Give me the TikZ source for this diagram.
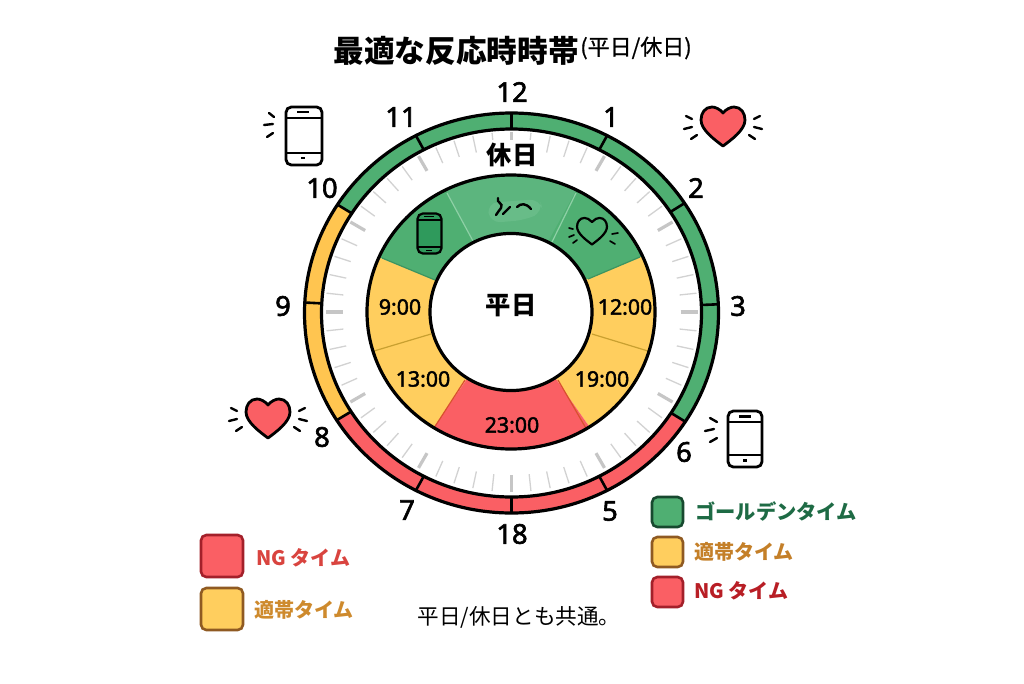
\documentclass[tikz,border=0pt]{standalone}
\usepackage{fontspec}
\setmainfont{Noto Sans CJK JP}
\newfontfamily\numf[FakeBold=2.2]{Noto Sans}
\newfontfamily\timef[FakeBold=2]{Noto Sans}
\newfontfamily\subf[FakeBold=0.8]{Noto Sans CJK JP}
\definecolor{gr}{HTML}{4FAF72}
\definecolor{grl}{HTML}{5CB57E}
\definecolor{grh}{HTML}{68BC88}
\definecolor{grd}{HTML}{2F9A5C}
\definecolor{grline}{HTML}{8ED0A6}
\definecolor{grdk}{HTML}{3C9460}
\definecolor{ye}{HTML}{FFC550}
\definecolor{yd}{HTML}{FFCE5E}
\definecolor{yline}{HTML}{C9A030}
\definecolor{re}{HTML}{FA5F64}
\definecolor{rline}{HTML}{D9502F}
\definecolor{tick}{HTML}{D2D2D2}
\definecolor{tickb}{HTML}{C6C6C6}
\definecolor{lgrt}{HTML}{1E6B45}
\definecolor{lyet}{HTML}{C47F28}
\definecolor{lret}{HTML}{B81E25}
\definecolor{lret2}{HTML}{D9443F}
\definecolor{lyet2}{HTML}{CE8A2D}
\definecolor{lgrb}{HTML}{17492F}
\definecolor{lyeb}{HTML}{8F5A22}
\definecolor{lreb}{HTML}{A3202A}
\tikzset{
 px/.style={line width=#1*0.75pt},
 outl/.style={draw=black,px=3.2},
 ray/.style={draw=black,px=2.4,line cap=round},
 sray/.style={draw=black,px=1.7,line cap=round},
 tnum/.style={font=\numf\fontsize{20.5}{22}\selectfont,inner sep=0pt},
 ttime/.style={font=\timef\fontsize{16}{18}\selectfont,inner sep=0pt},
 tbig/.style={font=\bfseries\fontsize{19}{20}\selectfont,inner sep=0pt},
 tleg/.style={font=\bfseries\fontsize{15}{18}\selectfont,inner sep=0pt,anchor=west},
 lbox/.style={rounded corners=4pt,px=2.6},
}
% fill an elliptical ring sector
\newcommand{\ringsect}[9]{%
 \fill[#1] plot[domain=#2:#3,samples=70] ({#4+#6*cos(\x)},{#5+#7*sin(\x)})
  -- plot[domain=#3:#2,samples=70] ({#4+#8*cos(\x)},{#5+#9*sin(\x)}) -- cycle;}
\newcommand{\heartpath}{(0,0) .. controls (3,-4) and (8,-6) .. (11,-6) .. controls (18,-6) and (22,0) .. (22,7) .. controls (22,17) and (8,27) .. (0,33) .. controls (-8,27) and (-22,17) .. (-22,7) .. controls (-22,0) and (-18,-6) .. (-11,-6) .. controls (-8,-6) and (-3,-4) .. cycle}
\newcommand{\bigheart}[2]{%
 \begin{scope}[shift={(#1,#2)}]
  \draw[fill=re,px=2.8,line join=round] \heartpath;
  \draw[ray] (-37,3)--(-31,6); \draw[ray] (-39,16)--(-31,14); \draw[ray] (-32,26)--(-26,22);
  \draw[ray] (31,6)--(37,3); \draw[ray] (31,14)--(39,16); \draw[ray] (26,22)--(32,26);
 \end{scope}}
% x1 y1 x2 y2 ya yb lw fill
\newcommand{\phone}[8]{%
 \draw[rounded corners=4pt,px=#7,fill=#8] (#1,#2) rectangle (#3,#4);
 \draw[px=#7] (#1,#5)--(#3,#5); \draw[px=#7] (#1,#6)--(#3,#6);}
\begin{document}
\begin{tikzpicture}[x=0.75pt,y=-0.75pt]
\useasboundingbox (0,0) rectangle (1024,683);
\fill[white] (0,0) rectangle (1024,683);
% ticks
\foreach \a in {0,6,...,354}{
 \pgfmathtruncatemacro{\m}{mod(\a,30)}
 \ifnum\m=0
  \draw[tickb,px=3.2] ({511.5+169*cos(\a)},{312+163*sin(\a)}) -- ({511.5+186*cos(\a)},{312+180*sin(\a)});
 \else
  \draw[tick,px=1.3] ({511.5+169*cos(\a)},{312+163*sin(\a)}) -- ({511.5+186*cos(\a)},{312+180*sin(\a)});
 \fi
}
% outer ring
\ringsect{gr}{212.8}{392.9}{511.5}{313}{207}{200}{190}{184}
\ringsect{ye}{147.6}{212.8}{511.5}{313}{207}{200}{190}{184}
\ringsect{re}{32.9}{147.6}{511.5}{313}{207}{200}{190}{184}
\draw[outl] (511.5,313) ellipse [x radius=155.25pt,y radius=150pt];
\draw[outl] (511.5,313) ellipse [x radius=142.5pt,y radius=138pt];
\foreach \t in {242.5,270,297.5,326.7,357.5,32.9,62.5,90,117.5,147.6,183,212.8}{
 \draw[black,px=2.6] ({511.5+190*cos(\t)},{313+184*sin(\t)}) -- ({511.5+207*cos(\t)},{313+200*sin(\t)});
}
% inner ring
\ringsect{gr}{203.5}{336}{511}{312}{144}{137}{81}{78.5}
\ringsect{grl}{243}{297}{511}{312}{144}{137}{81}{78.5}
\ringsect{yd}{336}{417}{511}{312}{144}{137}{81}{78.5}
\ringsect{yd}{122.5}{203.5}{511}{312}{144}{137}{81}{78.5}
\ringsect{re}{57}{122.5}{511}{312}{144}{137}{81}{78.5}
\fill[grh,rounded corners=8pt] (487,203) -- (540,199) -- (543,212) -- (525,220) -- (490,223) -- cycle;
\draw[grline,px=1.2] (447,193) -- (473,241);
\draw[grline,px=1.2] (576,193) -- (552,242);
\draw[grdk,px=1.2] (382,258) -- (435,280);
\draw[grdk,px=1.2] (640,257) -- (588,279);
\draw[yline,px=1.2] (374,351) -- (431,334);
\draw[yline,px=1.2] (592,334) -- (648,351);
\draw[rline,px=1.2] (465,380) -- (434,428);
\draw[rline,px=1.2] (558,380) -- (587,430);
\draw[outl] (511,312) ellipse [x radius=108pt,y radius=102.75pt];
\draw[outl,fill=white] (511,312) ellipse [x radius=60.75pt,y radius=58.9pt];
% inner icons
\phone{417.5}{213.5}{441.5}{253.5}{220}{247}{2.2}{grd}
\draw[px=1.5] (429,216.5) ++(-5,0) -- ++(10,0);
\draw[px=1.5] (429,250.5) ++(-3,0) -- ++(6,0);
\begin{scope}[shift={(592,222)},scale=0.68]
 \draw[px=2.2,line join=round] \heartpath;
\end{scope}
\begin{scope}[shift={(592,222)}]
 \draw[sray] (-23,6)--(-19,7); \draw[sray] (-23,15)--(-18,13); \draw[sray] (-19,21)--(-15,18);
 \draw[sray] (20,12)--(26,11); \draw[sray] (18,19)--(23,22);
\end{scope}
\draw[px=2.4,line cap=round] (498,198) .. controls (496,203) and (504,203) .. (501,208) .. controls (499,211) and (497,213) .. (496,215);
\draw[px=2.4,line cap=round] (510,207) -- (503,214);
\draw[px=2.4,line cap=round] (517,207) .. controls (521,203) and (526,203) .. (531,209);
% outer icons
\bigheart{723}{113}
\bigheart{268}{405}
\phone{286}{107}{322}{165}{118}{153}{2.8}{white}
\draw[px=2.6] (297,112) -- (309,112);
\draw[px=2.6] (301,158) -- (305,158);
\draw[ray] (269,113) -- (274,117);
\draw[ray] (264,125) -- (273,124);
\draw[ray] (267,137) -- (273,133);
\phone{728}{411}{762}{467}{422}{455}{2.8}{white}
\draw[px=2.6] (739,416.5) -- (751,416.5);
\draw[px=2.6] (743,460.5) -- (747,460.5);
\draw[ray] (710,418) -- (717,422);
\draw[ray] (705,431) -- (714,429);
\draw[ray] (710,442) -- (717,438);
% title
\node[inner sep=0pt,font=\bfseries\fontsize{23}{26}\selectfont] (title) at (456,51) {最適な反応時時帯};
\node[inner sep=0pt,font=\subf\fontsize{16.5}{18}\selectfont] (subtitle) at (636,48) {(平日/休日)};
% clock numbers
\node[tnum] (n12) at (512,92) {12};
\node[tnum] (n1) at (611,117) {1};
\node[tnum] (n2) at (696,188) {2};
\node[tnum] (n3) at (738,306) {3};
\node[tnum] (n6) at (684,452) {6};
\node[tnum] (n5) at (610,511) {5};
\node[tnum] (n18) at (512,534) {18};
\node[tnum] (n7) at (407,510) {7};
\node[tnum] (n8) at (322,437) {8};
\node[tnum] (n9) at (283,306) {9};
\node[tnum] (n10) at (322,188) {10};
\node[tnum] (n11) at (401,117) {11};
% central texts
\node[tbig,fill=white,inner sep=2pt] (holiday) at (512,155) {休日};
\node[tbig] (weekday) at (511,306) {平日};
\node[ttime] (t9) at (400,307) {9:00};
\node[ttime] (t12) at (625,307) {12:00};
\node[ttime] (t13) at (423,379) {13:00};
\node[ttime] (t19) at (602,379) {19:00};
\node[ttime] (t23) at (512,425) {23:00};
% legend right
\draw[lbox,draw=lgrb,fill=gr] (652,497) rectangle (683,527);
\draw[lbox,draw=lyeb,fill=yd] (652,537) rectangle (683,567);
\draw[lbox,draw=lreb,fill=re] (652,577) rectangle (683,607);
\node[tleg,text=lgrt,font=\bfseries\fontsize{15.2}{18}\selectfont] (lg1) at (695,511) {ゴールデンタイム};
\node[tleg,text=lyet] (ly1) at (694,552) {適帯タイム};
\node[tleg,text=lret] (lr1) at (694,591) {NG タイム};
% legend left
\draw[lbox,draw=lreb,fill=re] (201,535) rectangle (243,577);
\draw[lbox,draw=lyeb,fill=yd] (201,588) rectangle (243,630);
\node[tleg,text=lret2] (lr2) at (256,558) {NG タイム};
\node[tleg,text=lyet2] (ly2) at (254,610) {適帯タイム};
\node[inner sep=0pt,font=\fontsize{16.2}{18}\selectfont] (note) at (519,617) {平日/休日とも共通。};
\end{tikzpicture}
\end{document}
